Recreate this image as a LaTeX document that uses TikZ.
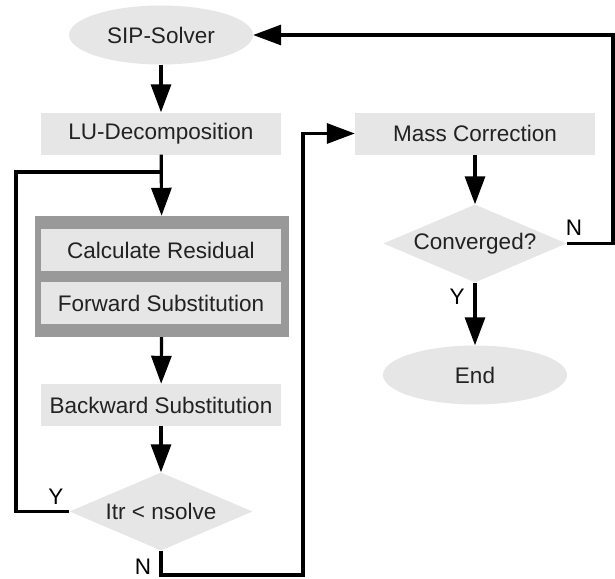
\documentclass[tikz,border=0pt]{standalone}
\usepackage{fontspec}
\setmainfont{Liberation Sans}
\usetikzlibrary{shapes.geometric,arrows.meta}
\definecolor{boxfill}{HTML}{E6E6E6}
\definecolor{framefill}{HTML}{999999}
\definecolor{ink}{HTML}{222222}
\begin{document}
\begin{tikzpicture}[x=1pt,y=-1pt,
  every node/.style={font=\fontsize{22.5}{26}\selectfont, text=ink, inner sep=0pt},
  box/.style={rectangle, fill=boxfill, minimum width=240pt, minimum height=42pt},
  ell/.style={ellipse, fill=boxfill, minimum width=184pt, minimum height=59pt},
  dia/.style={diamond, aspect=2.35, fill=boxfill, minimum width=183pt, minimum height=78pt},
  frame/.style={rectangle, fill=framefill, minimum width=254pt, minimum height=121pt},
  conn/.style={line width=3.2pt, black},
  arr/.style={conn, -{Triangle[length=28pt,width=20pt]}},
  lbl/.style={text=black}]
\useasboundingbox (0,0) rectangle (615,578);

% process nodes
\node[ell] (sip) at (161,35) {SIP-Solver};
\node[box] (lu) at (161,133.5) {LU-Decomposition};
\node[frame] (grp) at (162,276.5) {};
\node[box] (res) at (161,250) {Calculate Residual};
\node[box] (fwd) at (161,303) {Forward Substitution};
\node[box] (bwd) at (161,405) {Backward Substitution};
\node[dia] (itr) at (161,511.5) {Itr < nsolve};
\node[box] (mass) at (475,133.5) {Mass Correction};
\node[dia] (conv) at (475,243.5) {Converged?};
\node[ell] (end) at (475,375) {End};

% routing points
\coordinate (loopL) at (16,172);
\coordinate (nr) at (303,575);
\coordinate (tr) at (613,35);

% connectors
\draw[arr] (sip) -- (lu);
\draw[arr] (lu) -- (grp);
\draw[arr] (grp) -- (bwd);
\draw[arr] (bwd) -- (itr);
\draw[conn] (itr.west) -| (loopL) -- (loopL -| lu.south);
\draw[arr] (itr.south) |- (nr) |- (mass.west);
\draw[arr] (mass) -- (conv);
\draw[arr] (conv) -- (end);
\draw[arr] (conv.east) -| (tr) -- (sip.east);

% branch labels
\node[lbl] (y1) at (56,497) {Y};
\node[lbl] (n1) at (143,567) {N};
\node[lbl] (n2) at (574,228) {N};
\node[lbl] (y2) at (457,297) {Y};
\end{tikzpicture}
\end{document}
